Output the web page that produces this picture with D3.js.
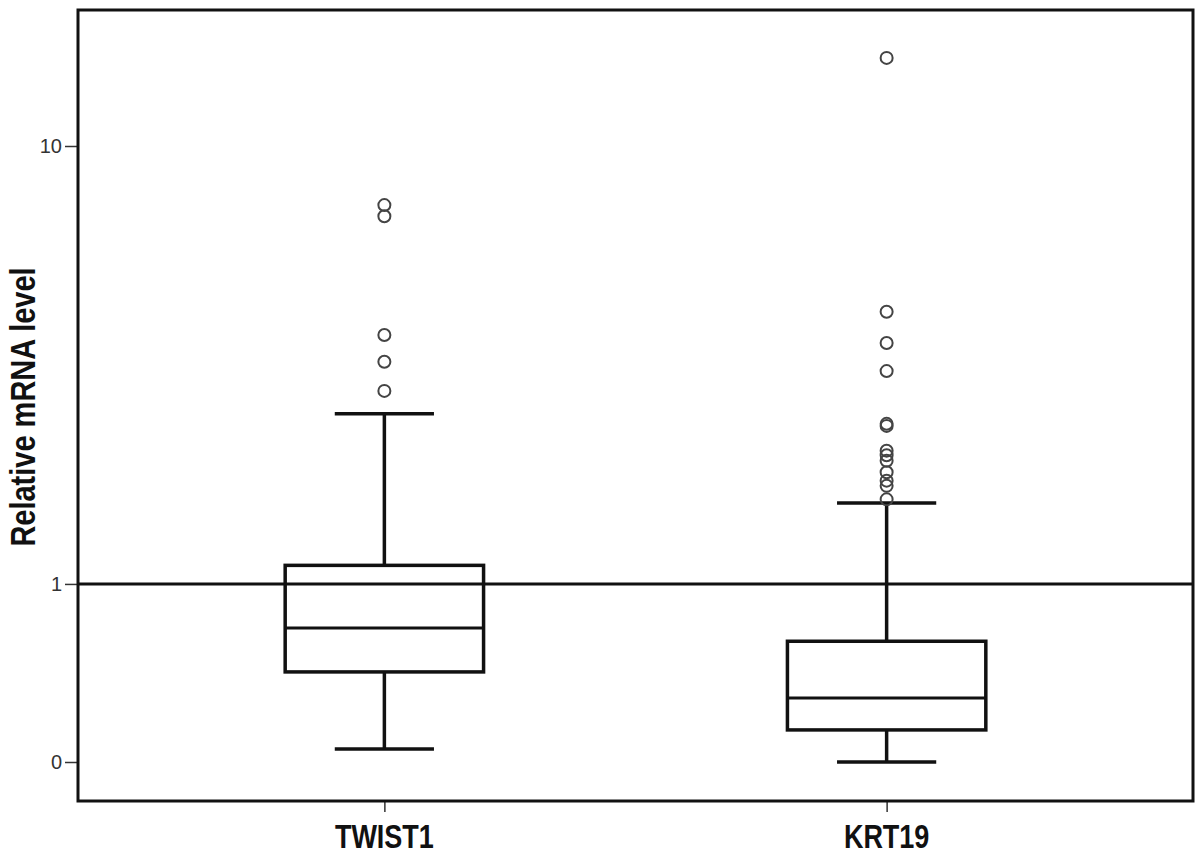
<!DOCTYPE html>
<html>
<head>
<meta charset="utf-8">
<script src="https://cdn.jsdelivr.net/npm/d3@7"></script>
<style>
  body { margin: 0; background: #fff; }
  text { font-family: "Liberation Sans", Arial, sans-serif; }
</style>
</head>
<body>
<div id="chart"></div>
<script>
const width = 1200, height = 856;
const margin = { top: 10, right: 7, bottom: 55, left: 78 };

const genes = ["TWIST1", "KRT19"];
const whiskerLow = [0.052, 0];
const q1 = [0.42, 0.133];
const medians = [0.685, 0.283];
const q3 = [1.15, 0.60];
const whiskerHigh = [2.88, 1.74];
const outliersTWIST1 = [7.74, 7.37, 4.27, 3.75, 3.24];
const outliersKRT19 = [14.5, 4.77, 4.11, 3.58, 2.73, 2.70, 2.36, 2.30, 2.23, 2.09, 1.99, 1.93, 1.78];
const yTicks = [0, 1, 10];

const outliers = [outliersTWIST1, outliersKRT19];
const boxes = genes.map((g, i) => ({
  gene: g, lo: whiskerLow[i], q1: q1[i], med: medians[i], q3: q3[i], hi: whiskerHigh[i], out: outliers[i]
}));

const svg = d3.select("#chart")
  .append("svg")
    .attr("width", width)
    .attr("height", height);

const x = d3.scalePoint()
  .domain(genes)
  .range([margin.left, width - margin.right])
  .padding(0.61);

const y = d3.scaleSymlog()
  .constant(1)
  .domain([0, 10])
  .range([762, 146]);

const step = x.step();
const boxW = step * 0.395;
const capW = boxW / 2;

// y axis
const yAxis = svg.append("g")
  .attr("transform", `translate(${margin.left},0)`)
  .call(d3.axisLeft(y).tickValues(yTicks).tickSize(13).tickPadding(3).tickFormat(d3.format("d")));
yAxis.select(".domain").remove();
yAxis.selectAll(".tick line").attr("stroke", "#333").attr("stroke-width", 1.5);
yAxis.selectAll(".tick text").attr("fill", "#333").style("font-size", "20px");

// x axis (ticks only, labels drawn below with a taller glyph shape)
const xAxis = svg.append("g")
  .attr("transform", `translate(0,${height - margin.bottom})`)
  .call(d3.axisBottom(x).tickSize(11).tickFormat(""));
xAxis.select(".domain").remove();
xAxis.selectAll(".tick line").attr("stroke", "#333").attr("stroke-width", 1.5);

svg.selectAll(".xlabel")
  .data(genes)
  .join("text")
    .attr("class", "xlabel")
    .attr("transform", d => `translate(${x(d)},848) scale(1,1.25)`)
    .attr("text-anchor", "middle")
    .attr("fill", "#111")
    .style("font-size", "27px")
    .style("font-weight", 700)
    .text(d => d);

svg.append("text")
  .attr("transform", `translate(35, 407) rotate(-90) scale(1,1.2)`)
  .attr("text-anchor", "middle")
  .attr("fill", "#111")
  .style("font-size", "29px")
  .style("font-weight", 700)
  .text("Relative mRNA level");

// reference line at 1
svg.append("line")
  .attr("x1", margin.left).attr("x2", width - margin.right)
  .attr("y1", y(1)).attr("y2", y(1))
  .attr("stroke", "#111")
  .attr("stroke-width", 3);

const g = svg.selectAll(".box")
  .data(boxes)
  .join("g")
    .attr("class", "box")
    .attr("stroke", "#111")
    .attr("stroke-width", 3.5)
    .attr("fill", "none");

g.append("line")
  .attr("x1", d => x(d.gene)).attr("x2", d => x(d.gene))
  .attr("y1", d => y(d.hi)).attr("y2", d => y(d.q3));
g.append("line")
  .attr("x1", d => x(d.gene)).attr("x2", d => x(d.gene))
  .attr("y1", d => y(d.q1)).attr("y2", d => y(d.lo));
g.append("line")
  .attr("x1", d => x(d.gene) - capW / 2).attr("x2", d => x(d.gene) + capW / 2)
  .attr("y1", d => y(d.hi)).attr("y2", d => y(d.hi));
g.append("line")
  .attr("x1", d => x(d.gene) - capW / 2).attr("x2", d => x(d.gene) + capW / 2)
  .attr("y1", d => y(d.lo)).attr("y2", d => y(d.lo));
g.append("rect")
  .attr("x", d => x(d.gene) - boxW / 2)
  .attr("width", boxW)
  .attr("y", d => y(d.q3))
  .attr("height", d => y(d.q1) - y(d.q3));
g.append("line")
  .attr("x1", d => x(d.gene) - boxW / 2).attr("x2", d => x(d.gene) + boxW / 2)
  .attr("y1", d => y(d.med)).attr("y2", d => y(d.med))
  .attr("stroke-width", 3);

g.selectAll("circle")
  .data(d => d.out.map(v => ({ gene: d.gene, v })))
  .join("circle")
    .attr("cx", d => x(d.gene))
    .attr("cy", d => y(d.v))
    .attr("r", 6)
    .attr("stroke", "#444")
    .attr("stroke-width", 2)
    .attr("fill", "none");

// frame
svg.append("rect")
  .attr("x", margin.left)
  .attr("y", margin.top)
  .attr("width", width - margin.left - margin.right)
  .attr("height", height - margin.top - margin.bottom)
  .attr("fill", "none")
  .attr("stroke", "#111")
  .attr("stroke-width", 3);
</script>
</body>
</html>
